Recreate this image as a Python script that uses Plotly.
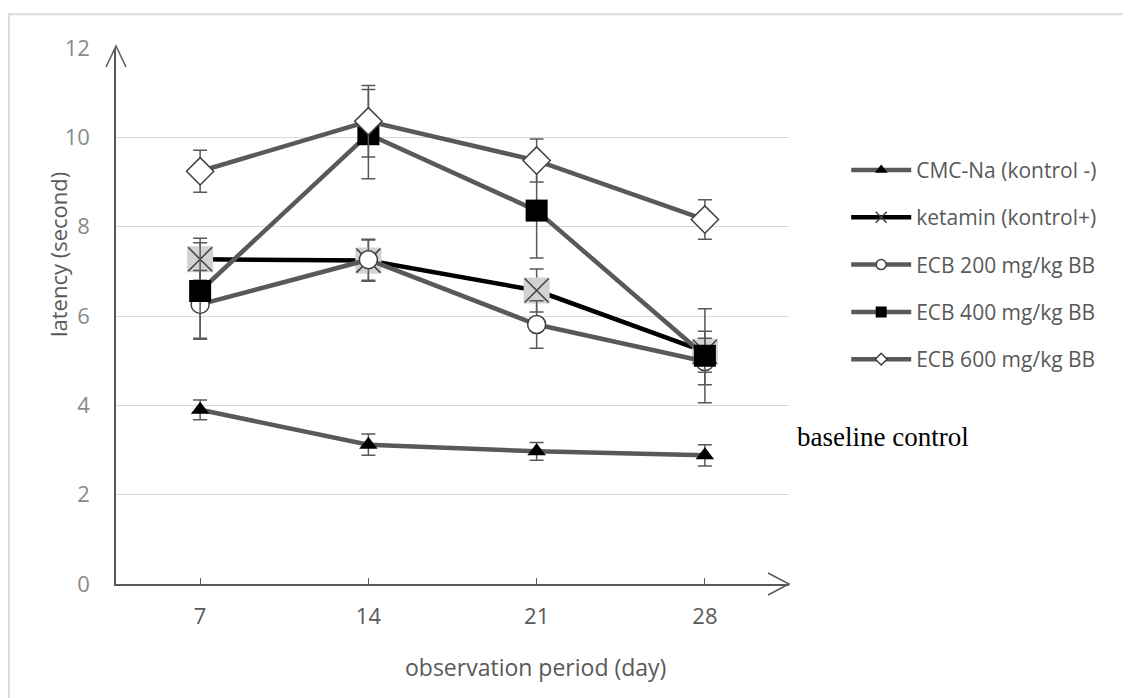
import plotly.graph_objects as go

# ---------------- data ----------------
days = ['7', '14', '21', '28']
names = ['CMC-Na (kontrol -)', 'ketamin (kontrol+)', 'ECB 200 mg/kg BB',
         'ECB 400 mg/kg BB', 'ECB 600 mg/kg BB']
cmc = [3.90, 3.12, 2.97, 2.88]
cmc_err = [0.22, 0.24, 0.20, 0.24]
ket = [7.27, 7.24, 6.57, 5.20]
ket_err = [0.47, 0.46, 0.48, 0.46]
e200 = [6.26, 7.26, 5.81, 4.98]
e200_err = [0.76, 0.46, 0.53, 0.52]
e400 = [6.56, 10.07, 8.36, 5.11]
e400_err = [1.08, 1.00, 1.06, 1.05]
e600 = [9.24, 10.36, 9.48, 8.16]
e600_err = [0.47, 0.80, 0.48, 0.44]
y_ticks = [0, 2, 4, 6, 8, 10, 12]

GRAY = '#595959'
DARK = '#404040'
FONT = 'Open Sans'

def err(a):
    return dict(type='data', array=a, visible=True, color=GRAY, thickness=1.5, width=7)

fig = go.Figure()

# CMC-Na
fig.add_trace(go.Scatter(x=days, y=cmc, mode='lines+markers', showlegend=False,
                         line=dict(color=GRAY, width=4.5), error_y=err(cmc_err),
                         marker=dict(symbol='triangle-up', size=16, color='black')))
# ketamin: grey square behind an X
fig.add_trace(go.Scatter(x=days, y=ket, mode='lines+markers', showlegend=False,
                         line=dict(color='black', width=4.5), error_y=err(ket_err),
                         marker=dict(symbol='square', size=26, color='#d2d2d2',
                                     line=dict(width=0))))
fig.add_trace(go.Scatter(x=days, y=ket, mode='markers', showlegend=False,
                         marker=dict(symbol='x-thin', size=24, color=DARK,
                                     line=dict(color=DARK, width=1.5))))
# ECB 200
fig.add_trace(go.Scatter(x=days, y=e200, mode='lines+markers', showlegend=False,
                         line=dict(color=GRAY, width=4.5), error_y=err(e200_err),
                         marker=dict(symbol='circle', size=18, color='white',
                                     line=dict(color=DARK, width=1.5))))
# ECB 400
fig.add_trace(go.Scatter(x=days, y=e400, mode='lines+markers', showlegend=False,
                         line=dict(color=GRAY, width=4.5), error_y=err(e400_err),
                         marker=dict(symbol='square', size=22, color='black',
                                     line=dict(width=0))))
# ECB 600
fig.add_trace(go.Scatter(x=days, y=e600, mode='lines+markers', showlegend=False,
                         line=dict(color=GRAY, width=4.5), error_y=err(e600_err),
                         marker=dict(symbol='diamond', size=21, color='white',
                                     line=dict(color=DARK, width=1.5))))

# legend entries
leg_specs = [
    (names[0], GRAY, dict(symbol='triangle-up', size=11, color='black')),
    (names[1], 'black', dict(symbol='x-thin', size=11, color=DARK, line=dict(color=DARK, width=1.5))),
    (names[2], GRAY, dict(symbol='circle', size=10, color='white', line=dict(color=DARK, width=1.5))),
    (names[3], GRAY, dict(symbol='square', size=11, color='black')),
    (names[4], GRAY, dict(symbol='diamond', size=9, color='white', line=dict(color=DARK, width=1.5))),
]
for i, (nm, lc, mk) in enumerate(leg_specs):
    fig.add_trace(go.Scatter(x=[None], y=[None], mode='lines+markers', name=nm,
                             legendgroup=nm, legendrank=i + 1,
                             line=dict(color=lc, width=4.5), marker=mk))

# page has an 8px body margin; plot area lands at x 116..789, y 48..584
fig.update_layout(
    width=1123, height=690,
    margin=dict(l=108, r=342, t=40, b=114),
    paper_bgcolor='white', plot_bgcolor='white',
    font=dict(family=FONT, color=GRAY),
    xaxis=dict(type='category', range=[-0.5, 3.5], showgrid=False,
               showline=True, linecolor=GRAY, linewidth=1.5,
               ticks='inside', ticklen=6, tickcolor=GRAY, tickwidth=1,
               tickfont=dict(size=22, color=GRAY, family=FONT),
               ticklabelstandoff=12, zeroline=False),
    yaxis=dict(range=[0, 12], tickvals=y_ticks, showgrid=True, gridcolor='#d9d9d9',
               gridwidth=1, showline=True, linecolor=GRAY, linewidth=1.5,
               ticks='', tickfont=dict(size=22, color='#8a8a8a', family=FONT),
               ticklabelstandoff=20, zeroline=False),
    legend=dict(x=1.085, y=0.81, xanchor='left', yanchor='top',
                font=dict(size=21, color=GRAY, family=FONT),
                tracegroupgap=17, itemwidth=60, bgcolor='rgba(0,0,0,0)'),
    showlegend=True,
)

# axis titles and extra text
fig.add_annotation(text='latency (second)', xref='paper', yref='paper',
                   x=-0.086, y=0.614, textangle=-90, showarrow=False,
                   xanchor='center', yanchor='middle',
                   font=dict(size=22, color=GRAY, family=FONT))
fig.add_annotation(text='observation period (day)', xref='paper', yref='paper',
                   x=0.6226, y=-0.155, showarrow=False, xanchor='center', yanchor='middle',
                   font=dict(size=23, color=GRAY, family=FONT))
fig.add_annotation(text='baseline control', xref='paper', yref='paper',
                   x=1.009, y=0.274, showarrow=False, xanchor='left', yanchor='middle',
                   font=dict(size=27, color='black', family='Liberation Serif'))

# outer frame
fig.add_shape(type='rect', xref='paper', yref='paper', x0=-0.159, x1=1.52,
              y0=-0.23, y1=1.063, line=dict(color='#dcdcdc', width=2), layer='below')
# axis arrowheads
fig.add_shape(type='path', xref='paper', yref='paper', xsizemode='pixel', ysizemode='pixel',
              xanchor=0, yanchor=1, path='M-10,-19 L0,2 L10,-19',
              line=dict(color=GRAY, width=1.5))
fig.add_shape(type='path', xref='paper', yref='paper', xsizemode='pixel', ysizemode='pixel',
              xanchor=1, yanchor=0, path='M-21,11 L0,0 L-21,-11',
              line=dict(color=GRAY, width=1.5))

fig.write_html('out.html')
